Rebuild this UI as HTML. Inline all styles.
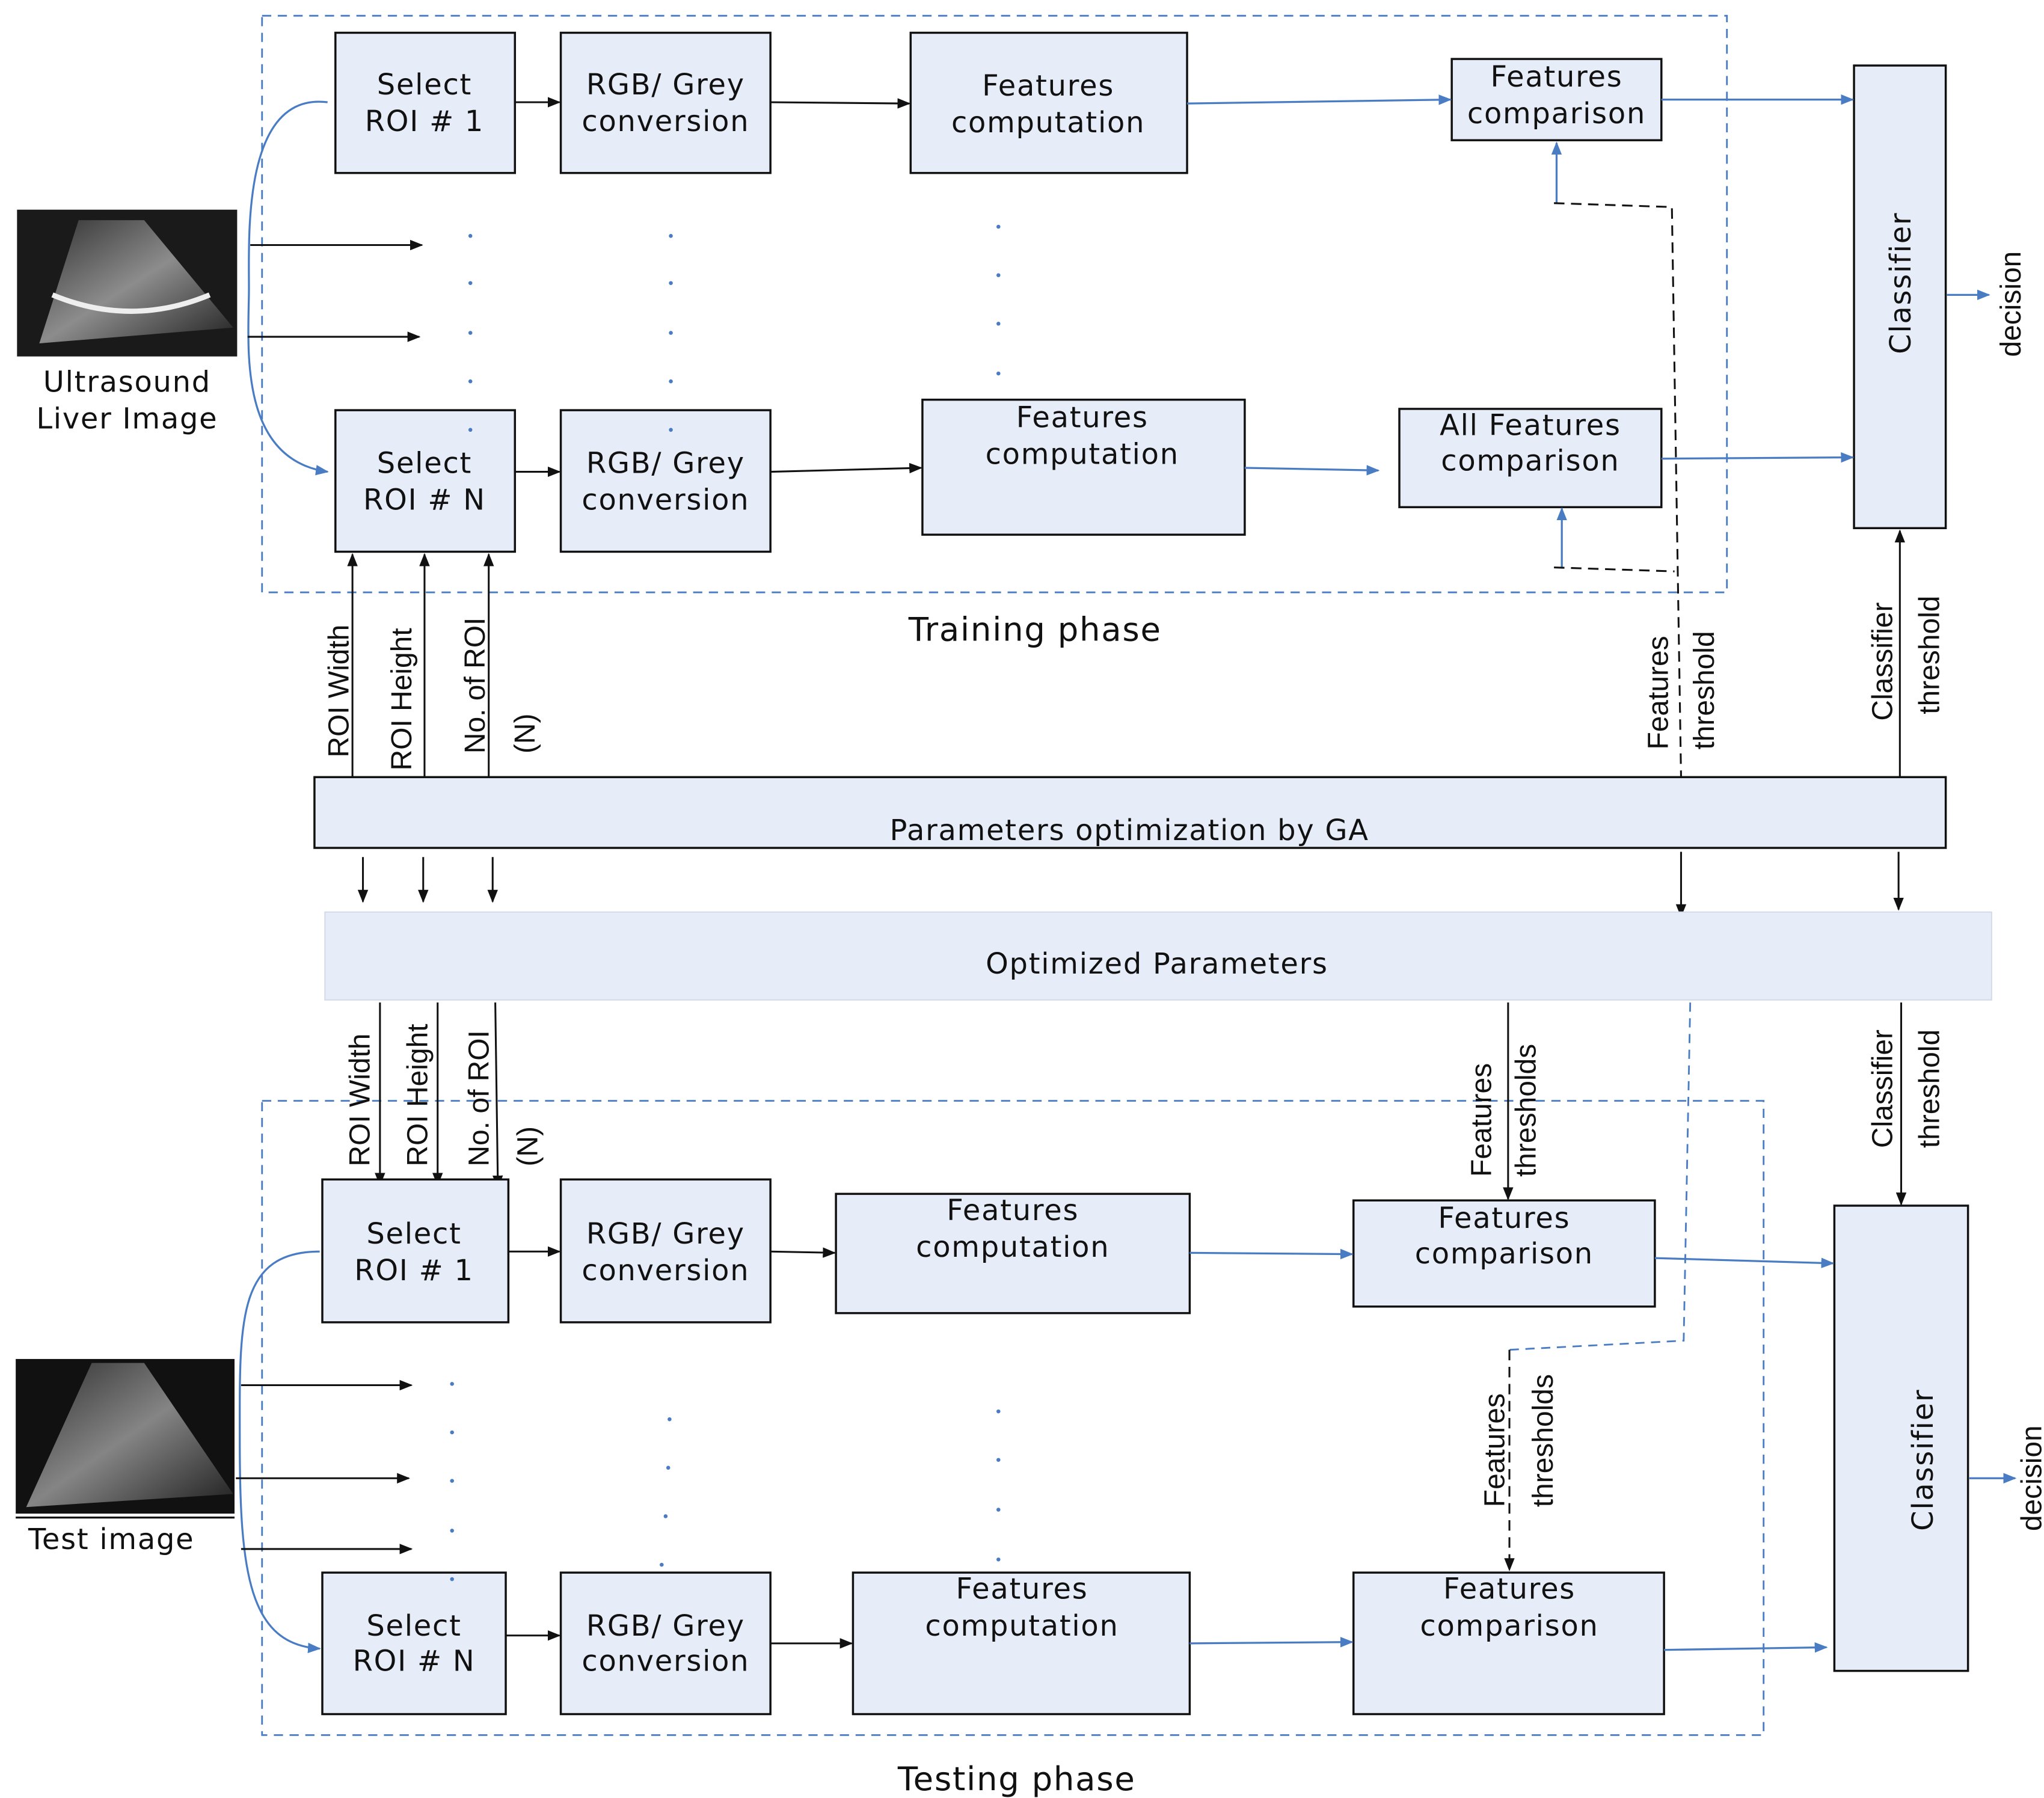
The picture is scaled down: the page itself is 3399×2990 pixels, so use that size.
<!DOCTYPE html>
<html><head><meta charset="utf-8"><style>
html,body{margin:0;padding:0;background:#fff}
svg{display:block}
text{font-family:"DejaVu Sans","Liberation Sans",sans-serif;fill:#111}
.b{fill:#e7edf8;stroke:#111;stroke-width:1.6}
.bl{stroke:#4a7cc4;stroke-width:1.5;fill:none}
.k{stroke:#111;stroke-width:1.4;fill:none}
.d{stroke:#4a7cc4;stroke-width:1.3;fill:none;stroke-dasharray:7 5}
.kd{stroke:#111;stroke-width:1.4;fill:none;stroke-dasharray:8 5}
.t{font-size:22px;text-anchor:middle;letter-spacing:0.8px}
.r{font-family:"Liberation Sans",sans-serif;font-size:22px}
.dot{fill:#4a7cc4}
</style></head><body>
<svg width="3399" height="2990" viewBox="0 0 1560 1372" preserveAspectRatio="none" xmlns="http://www.w3.org/2000/svg">
<defs>
<marker id="ak" markerWidth="10" markerHeight="8" refX="9" refY="4" orient="auto" markerUnits="userSpaceOnUse"><path d="M0,0 L10,4 L0,8 z" fill="#111"/></marker>
<marker id="ab" markerWidth="10" markerHeight="8" refX="9" refY="4" orient="auto" markerUnits="userSpaceOnUse"><path d="M0,0 L10,4 L0,8 z" fill="#4a7cc4"/></marker>
<linearGradient id="us" x1="0" y1="0" x2="1" y2="1"><stop offset="0" stop-color="#333"/><stop offset="0.5" stop-color="#999"/><stop offset="1" stop-color="#222"/></linearGradient>
</defs>

<rect x="200" y="12" width="1118" height="440" class="d"/>
<rect x="200" y="840" width="1146" height="484" class="d"/>

<rect x="13" y="160" width="168" height="112" fill="#1a1a1a"/>
<path d="M60,168 L110,168 L178,250 L30,262 Z" fill="url(#us)" opacity="0.9"/>
<path d="M40,225 Q100,250 160,225" stroke="#eee" stroke-width="4" fill="none"/>
<rect x="12" y="1037" width="167" height="118" fill="#111"/>
<path d="M70,1040 L110,1040 L178,1140 L20,1150 Z" fill="url(#us)" opacity="0.85"/>
<line x1="12" y1="1158" x2="179" y2="1158" stroke="#111" stroke-width="1.5"/>
<text class="t" x="97" y="299">Ultrasound</text>
<text class="t" x="97" y="327">Liver Image</text>
<text class="t" x="85" y="1182">Test image</text>

<rect class="b" x="256" y="25" width="137" height="107"/>
<text class="t" x="324" y="72">Select</text><text class="t" x="324" y="100">ROI # 1</text>
<rect class="b" x="428" y="25" width="160" height="107"/>
<text class="t" x="508" y="72">RGB/ Grey</text><text class="t" x="508" y="100">conversion</text>
<rect class="b" x="695" y="25" width="211" height="107"/>
<text class="t" x="800" y="73">Features</text><text class="t" x="800" y="101">computation</text>
<rect class="b" x="1108" y="45" width="160" height="62"/>
<text class="t" x="1188" y="66">Features</text><text class="t" x="1188" y="94">comparison</text>
<rect class="b" x="1415" y="50" width="70" height="353"/>
<text class="t" transform="translate(1458,216) rotate(-90)">Classifier</text>
<text class="r" text-anchor="middle" transform="translate(1542,232) rotate(-90)">decision</text>

<rect class="b" x="256" y="313" width="137" height="108"/>
<text class="t" x="324" y="361">Select</text><text class="t" x="324" y="389">ROI # N</text>
<rect class="b" x="428" y="313" width="160" height="108"/>
<text class="t" x="508" y="361">RGB/ Grey</text><text class="t" x="508" y="389">conversion</text>
<rect class="b" x="704" y="305" width="246" height="103"/>
<text class="t" x="826" y="326">Features</text><text class="t" x="826" y="354">computation</text>
<rect class="b" x="1068" y="312" width="200" height="75"/>
<text class="t" x="1168" y="332">All Features</text><text class="t" x="1168" y="359">comparison</text>

<path class="bl" d="M250,78 C185,70 190,180 190,220 C190,260 180,350 250,360" marker-end="url(#ab)"/>
<line class="k" x1="191" y1="187" x2="322" y2="187" marker-end="url(#ak)"/>
<line class="k" x1="189" y1="257" x2="320" y2="257" marker-end="url(#ak)"/>
<line class="k" x1="393" y1="78" x2="427" y2="78" marker-end="url(#ak)"/>
<line class="k" x1="588" y1="78" x2="694" y2="79" marker-end="url(#ak)"/>
<line class="bl" x1="906" y1="79" x2="1107" y2="76" marker-end="url(#ab)"/>
<line class="bl" x1="1268" y1="76" x2="1414" y2="76" marker-end="url(#ab)"/>
<line class="k" x1="393" y1="360" x2="427" y2="360" marker-end="url(#ak)"/>
<line class="k" x1="588" y1="360" x2="703" y2="357" marker-end="url(#ak)"/>
<line class="bl" x1="950" y1="357" x2="1052" y2="359" marker-end="url(#ab)"/>
<line class="bl" x1="1268" y1="350" x2="1414" y2="349" marker-end="url(#ab)"/>
<line class="bl" x1="1486" y1="225" x2="1518" y2="225" marker-end="url(#ab)"/>
<line class="bl" x1="1188" y1="155" x2="1188" y2="109" marker-end="url(#ab)"/>
<line class="bl" x1="1192" y1="433" x2="1192" y2="388" marker-end="url(#ab)"/>
<path class="kd" d="M1186,155 L1276,158 L1283,593"/>
<path class="kd" d="M1186,433 L1278,436"/>
<g class="dot">
<circle cx="359" cy="180" r="1.5"/><circle cx="359" cy="216" r="1.5"/><circle cx="359" cy="254" r="1.5"/><circle cx="359" cy="291" r="1.5"/><circle cx="359" cy="328" r="1.5"/>
<circle cx="512" cy="180" r="1.5"/><circle cx="512" cy="216" r="1.5"/><circle cx="512" cy="254" r="1.5"/><circle cx="512" cy="291" r="1.5"/><circle cx="512" cy="328" r="1.5"/>
<circle cx="762" cy="173" r="1.5"/><circle cx="762" cy="210" r="1.5"/><circle cx="762" cy="247" r="1.5"/><circle cx="762" cy="285" r="1.5"/>
</g>
<text class="t" x="790" y="489" style="font-size:25px">Training phase</text>

<rect class="b" x="240" y="593" width="1245" height="54"/>
<text class="t" x="862" y="641">Parameters optimization by GA</text>
<line class="k" x1="269" y1="593" x2="269" y2="423" marker-end="url(#ak)"/>
<line class="k" x1="324" y1="593" x2="324" y2="423" marker-end="url(#ak)"/>
<line class="k" x1="373" y1="593" x2="373" y2="423" marker-end="url(#ak)"/>
<text class="r" transform="translate(266,578) rotate(-90)">ROI Width</text>
<text class="r" transform="translate(314,588) rotate(-90)">ROI Height</text>
<text class="r" transform="translate(370,575) rotate(-90)">No. of ROI</text>
<text class="r" transform="translate(408,575) rotate(-90)">(N)</text>
<text class="r" transform="translate(1273,572) rotate(-90)">Features</text>
<text class="r" transform="translate(1308,572) rotate(-90)">threshold</text>
<line class="k" x1="1450" y1="593" x2="1450" y2="405" marker-end="url(#ak)"/>
<text class="r" transform="translate(1444,550) rotate(-90)">Classifier</text>
<text class="r" transform="translate(1480,545) rotate(-90)">threshold</text>

<line class="k" x1="277" y1="654" x2="277" y2="688" marker-end="url(#ak)"/>
<line class="k" x1="323" y1="654" x2="323" y2="688" marker-end="url(#ak)"/>
<line class="k" x1="376" y1="654" x2="376" y2="688" marker-end="url(#ak)"/>
<line class="k" x1="1283" y1="650" x2="1283" y2="699" marker-end="url(#ak)"/>
<line class="k" x1="1449" y1="650" x2="1449" y2="694" marker-end="url(#ak)"/>

<rect x="248" y="696" width="1272" height="67" fill="#e7edf8" stroke="#d5dce8" stroke-width="1"/>
<text class="t" x="883" y="743">Optimized Parameters</text>

<line class="k" x1="290" y1="765" x2="290" y2="904" marker-end="url(#ak)"/>
<line class="k" x1="334" y1="765" x2="334" y2="904" marker-end="url(#ak)"/>
<line class="k" x1="378" y1="765" x2="380" y2="906" marker-end="url(#ak)"/>
<text class="r" transform="translate(282,890) rotate(-90)">ROI Width</text>
<text class="r" transform="translate(326,890) rotate(-90)">ROI Height</text>
<text class="r" transform="translate(373,890) rotate(-90)">No. of ROI</text>
<text class="r" transform="translate(410,890) rotate(-90)">(N)</text>
<line class="k" x1="1151" y1="765" x2="1151" y2="915" marker-end="url(#ak)"/>
<text class="r" transform="translate(1138,898) rotate(-90)">Features</text>
<text class="r" transform="translate(1172,898) rotate(-90)">thresholds</text>
<line class="k" x1="1451" y1="765" x2="1451" y2="919" marker-end="url(#ak)"/>
<text class="r" transform="translate(1444,876) rotate(-90)">Classifier</text>
<text class="r" transform="translate(1480,876) rotate(-90)">threshold</text>
<path class="d" d="M1290,765 L1285,1023 L1152,1030"/>
<path class="kd" d="M1152,1030 L1152,1198" marker-end="url(#ak)"/>
<text class="r" transform="translate(1148,1150) rotate(-90)">Features</text>
<text class="r" transform="translate(1185,1150) rotate(-90)">thresholds</text>

<rect class="b" x="246" y="900" width="142" height="109"/>
<text class="t" x="316" y="949">Select</text><text class="t" x="316" y="977">ROI # 1</text>
<rect class="b" x="428" y="900" width="160" height="109"/>
<text class="t" x="508" y="949">RGB/ Grey</text><text class="t" x="508" y="977">conversion</text>
<rect class="b" x="638" y="911" width="270" height="91"/>
<text class="t" x="773" y="931">Features</text><text class="t" x="773" y="959">computation</text>
<rect class="b" x="1033" y="916" width="230" height="81"/>
<text class="t" x="1148" y="937">Features</text><text class="t" x="1148" y="964">comparison</text>
<rect class="b" x="1400" y="920" width="102" height="355"/>
<text class="t" transform="translate(1475,1114) rotate(-90)">Classifier</text>
<text class="r" text-anchor="middle" transform="translate(1558,1128) rotate(-90)">decision</text>

<rect class="b" x="246" y="1200" width="140" height="108"/>
<text class="t" x="316" y="1248">Select</text><text class="t" x="316" y="1275">ROI # N</text>
<rect class="b" x="428" y="1200" width="160" height="108"/>
<text class="t" x="508" y="1248">RGB/ Grey</text><text class="t" x="508" y="1275">conversion</text>
<rect class="b" x="651" y="1200" width="257" height="108"/>
<text class="t" x="780" y="1220">Features</text><text class="t" x="780" y="1248">computation</text>
<rect class="b" x="1033" y="1200" width="237" height="108"/>
<text class="t" x="1152" y="1220">Features</text><text class="t" x="1152" y="1248">comparison</text>

<path class="bl" d="M244,955 C180,955 183,1010 183,1100 C183,1200 190,1255 244,1258" marker-end="url(#ab)"/>
<line class="k" x1="184" y1="1057" x2="314" y2="1057" marker-end="url(#ak)"/>
<line class="k" x1="180" y1="1128" x2="312" y2="1128" marker-end="url(#ak)"/>
<line class="k" x1="184" y1="1182" x2="314" y2="1182" marker-end="url(#ak)"/>
<line class="k" x1="388" y1="955" x2="427" y2="955" marker-end="url(#ak)"/>
<line class="k" x1="588" y1="955" x2="637" y2="956" marker-end="url(#ak)"/>
<line class="bl" x1="908" y1="956" x2="1032" y2="957" marker-end="url(#ab)"/>
<line class="bl" x1="1263" y1="960" x2="1399" y2="964" marker-end="url(#ab)"/>
<line class="k" x1="386" y1="1248" x2="427" y2="1248" marker-end="url(#ak)"/>
<line class="k" x1="588" y1="1254" x2="650" y2="1254" marker-end="url(#ak)"/>
<line class="bl" x1="908" y1="1254" x2="1032" y2="1253" marker-end="url(#ab)"/>
<line class="bl" x1="1270" y1="1259" x2="1394" y2="1257" marker-end="url(#ab)"/>
<line class="bl" x1="1503" y1="1128" x2="1538" y2="1128" marker-end="url(#ab)"/>
<g class="dot">
<circle cx="345" cy="1056" r="1.5"/><circle cx="345" cy="1093" r="1.5"/><circle cx="345" cy="1130" r="1.5"/><circle cx="345" cy="1168" r="1.5"/><circle cx="345" cy="1205" r="1.5"/>
<circle cx="511" cy="1083" r="1.5"/><circle cx="510" cy="1120" r="1.5"/><circle cx="508" cy="1157" r="1.5"/><circle cx="505" cy="1194" r="1.5"/>
<circle cx="762" cy="1077" r="1.5"/><circle cx="762" cy="1114" r="1.5"/><circle cx="762" cy="1152" r="1.5"/><circle cx="762" cy="1190" r="1.5"/>
</g>
<text class="t" x="776" y="1366" style="font-size:25px">Testing phase</text>
</svg>
</body></html>
